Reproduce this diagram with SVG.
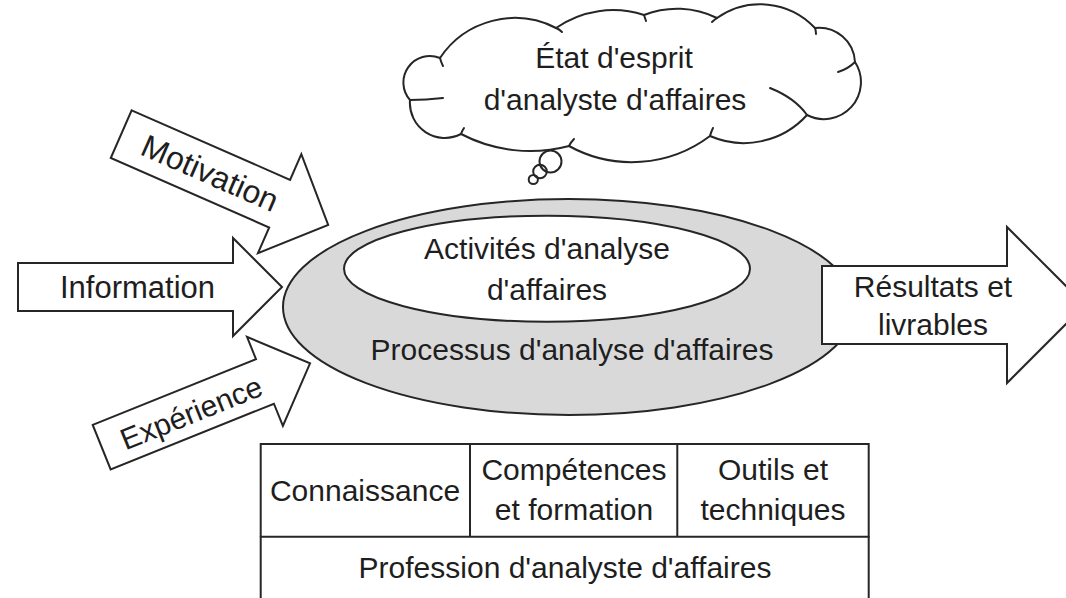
<svg xmlns="http://www.w3.org/2000/svg" width="1066" height="598" viewBox="0 0 1066 598">
  <style>
    .ln { fill: none; stroke: #262626; stroke-width: 2; stroke-linejoin: miter; stroke-linecap: round; }
    .box { fill: #ffffff; stroke: #262626; stroke-width: 2; stroke-linejoin: miter; }
    .shade { fill: #d9d9d9; stroke: #262626; stroke-width: 2; }
    .t { font-family: "Liberation Sans", Arial, sans-serif; font-size: 30px; fill: #1e1e1e; text-anchor: middle; }
  </style>
  <defs>
    <!-- block arrow body, pointing along +x from its tail centre -->
    <path id="blockArrowA" d="M0,-26 L173,-26 L173,-54 L226,0 L173,54 L173,26 L0,26 Z"/>
    <path id="blockArrowB" d="M0,-24 L176,-24 L176,-48 L224.6,0 L176,48 L176,24 L0,24 Z"/>
  </defs>

  <rect width="1066" height="598" fill="#ffffff"/>

  <!-- outer ellipse: process -->
  <g id="process">
    <ellipse class="shade" cx="569" cy="307" rx="286" ry="108"/>
    <text class="t" x="572" y="360">Processus d'analyse d'affaires</text>
  </g>

  <!-- inner ellipse: activities -->
  <g id="activities">
    <ellipse class="box" cx="547" cy="268.7" rx="203" ry="53"/>
    <text class="t" x="547" y="259">Activités d'analyse</text>
    <text class="t" x="547" y="300">d'affaires</text>
  </g>

  <!-- block arrows feeding in and out of the process -->
  <g id="connectors">
    <g id="arrow-motivation" transform="translate(121.2,134.2) rotate(23.67)">
      <use href="#blockArrowA" class="box"/>
      <text class="t" x="97" y="11" style="font-size:32px">Motivation</text>
    </g>
    <g id="arrow-information">
      <path class="box" d="M18,263 L233,263 L233,238 L282,287 L233,336 L233,311 L18,311 Z"/>
      <text class="t" x="137.5" y="298" style="font-size:31px">Information</text>
    </g>
    <g id="arrow-experience" transform="translate(101.7,447.2) rotate(-21.94)">
      <use href="#blockArrowB" class="box"/>
      <text class="t" x="96" y="12">Expérience</text>
    </g>
    <g id="arrow-results">
      <path class="box" d="M822,266 L1007,266 L1007,227 L1085,305 L1007,383 L1007,344 L822,344 Z"/>
      <text class="t" x="933" y="297">Résultats et</text>
      <text class="t" x="933" y="335">livrables</text>
    </g>
  </g>

  <!-- thought cloud -->
  <g id="mindset">
    <path class="box" d="M440,58
      A90,90 0 0 1 556,28
      A100,100 0 0 1 644,15
      A90,90 0 0 1 717,18
      A75,75 0 0 1 815,28
      A36,36 0 0 1 855,62
      A37,37 0 0 1 807,115
      A85,85 0 0 1 710,136
      A130,130 0 0 1 569,146
      A150,150 0 0 1 461,134
      A35,35 0 0 1 410,100
      A26.5,26.5 0 0 1 440,58 Z"/>
    <!-- inner lobe hooks -->
    <path class="ln" d="M440,58 Q441,62 443,66"/>
    <path class="ln" d="M410,100 Q426,100 443,98"/>
    <path class="ln" d="M461,134 Q462,131 464,128"/>
    <path class="ln" d="M569,146 Q571,142 574,139"/>
    <path class="ln" d="M710,136 Q711,132 713,128"/>
    <path class="ln" d="M770,88 Q795,98 807,115"/>
    <path class="ln" d="M838,72 Q848,69 855,62"/>
    <path class="ln" d="M815,28 Q816,31 816,34"/>
    <path class="ln" d="M717,18 Q714,20 712,22"/>
    <path class="ln" d="M644,15 Q645,18 646,21"/>
    <path class="ln" d="M556,28 Q559,29 562,32"/>
    <!-- trailing bubbles -->
    <circle class="ln" cx="550.5" cy="161.5" r="11"/>
    <circle class="ln" cx="540" cy="171.5" r="6.8"/>
    <circle class="ln" cx="533.3" cy="179.5" r="4.6"/>
    <text class="t" x="614" y="68">État d'esprit</text>
    <text class="t" x="615" y="110">d'analyste d'affaires</text>
  </g>

  <!-- profession table -->
  <g id="profession">
    <rect class="box" x="260.7" y="444" width="608" height="180"/>
    <path class="ln" d="M260.7,536.7 H868.7 M470,444 V536.7 M677.3,444 V536.7"/>
    <text class="t" x="365" y="501">Connaissance</text>
    <text class="t" x="574" y="480">Compétences</text>
    <text class="t" x="574" y="520">et formation</text>
    <text class="t" x="773" y="480">Outils et</text>
    <text class="t" x="773" y="520">techniques</text>
    <text class="t" x="565" y="578">Profession d'analyste d'affaires</text>
  </g>
</svg>
